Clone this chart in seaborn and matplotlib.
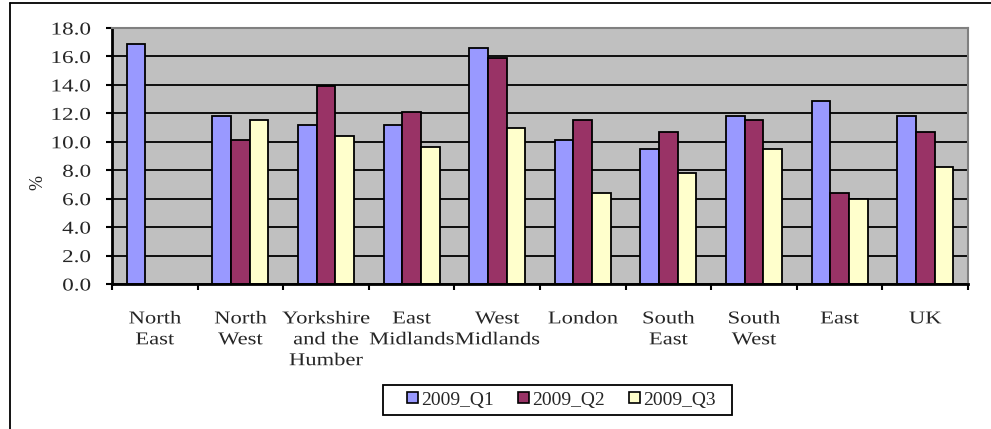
import matplotlib
matplotlib.use("Agg")
import matplotlib.pyplot as plt
from matplotlib.lines import Line2D
from matplotlib.patches import Rectangle
from matplotlib.patheffects import AbstractPathEffect
from matplotlib.transforms import Affine2D
from matplotlib.ticker import FixedLocator, FormatStrFormatter
import numpy as np
import pandas as pd
import seaborn as sns

regions = ["North\nEast", "North\nWest", "Yorkshire\nand the\nHumber", "East\nMidlands",
           "West\nMidlands", "London", "South\nEast", "South\nWest", "East", "UK"]
quarters = ["2009_Q1", "2009_Q2", "2009_Q3"]
q1 = [16.9, 11.8, 11.2, 11.2, 16.6, 10.1, 9.5, 11.8, 12.9, 11.8]
q2 = [np.nan, 10.1, 13.9, 12.1, 15.9, 11.5, 10.7, 11.5, 6.4, 10.7]
q3 = [np.nan, 11.5, 10.4, 9.6, 11.0, 6.4, 7.8, 9.5, 6.0, 8.2]
colors = ["#9999FF", "#993366", "#FFFFCC"]

df = pd.DataFrame({
    "region": regions * 3,
    "quarter": [q for q in quarters for _ in regions],
    "value": q1 + q2 + q3,
})


class WideText(AbstractPathEffect):
    """Widen glyph runs horizontally about a chosen anchor of each line."""

    def __init__(self, sx=1.25, anchor="center"):
        super().__init__()
        self.sx = sx
        self.anchor = anchor

    def draw_path(self, renderer, gc, tpath, affine, rgbFace=None):
        ext = tpath.get_extents()
        if self.anchor == "center":
            c = (ext.x0 + ext.x1) / 2
        elif self.anchor == "right":
            c = ext.x1
        else:
            c = 0.0
        t = Affine2D().translate(-c, 0).scale(self.sx, 1).translate(c, 0) + affine
        renderer.draw_path(gc, tpath, t, rgbFace)


sns.set_theme(style="white")
plt.rcParams["font.family"] = ["Liberation Serif", "DejaVu Serif"]

W, H = 991, 429
fig = plt.figure(figsize=(W / 100, H / 100), dpi=100)
ax = fig.add_axes([112 / W, 1 - 284 / H, 856 / W, 256 / H])

sns.barplot(data=df, x="region", y="value", hue="quarter", order=regions,
            hue_order=quarters, palette=colors, width=0.655, gap=0,
            edgecolor="black", linewidth=1.3, errorbar=None, saturation=1,
            ax=ax)

ax.set_facecolor("#C0C0C0")
ax.set_xlim(-0.5, len(regions) - 0.5)
ax.set_ylim(0, 18)
ax.set_yticks(np.arange(0, 18.1, 2))
ax.yaxis.set_major_formatter(FormatStrFormatter("%.1f"))
ax.yaxis.grid(True, color="black", linewidth=1.3)
ax.set_axisbelow(True)

# category labels centred, tick marks on category boundaries
ax.xaxis.set_minor_locator(FixedLocator(np.arange(-0.5, len(regions), 1.0)))
ax.tick_params(axis="x", which="major", length=0, pad=19, labelsize=13)
ax.tick_params(axis="x", which="minor", length=4.5, width=1.5, color="black",
               direction="out", bottom=True)
ax.tick_params(axis="y", which="major", length=4.5, width=1.5, color="black",
               direction="out", left=True, pad=11, labelsize=13)
for lab in ax.get_xticklabels():
    lab.set_linespacing(1.3)
    lab.set_ha("center")
    lab.set_path_effects([WideText(1.25, "center")])
for lab in ax.get_yticklabels():
    lab.set_path_effects([WideText(1.28, "right")])

ax.set_xlabel("")
ax.set_ylabel("%", fontsize=13)
ax.yaxis.set_label_coords(-0.077, 0.395)

for side in ("left", "bottom"):
    ax.spines[side].set_color("black")
    ax.spines[side].set_linewidth(2)
for side in ("top", "right"):
    ax.spines[side].set_color("#808080")
    ax.spines[side].set_linewidth(1.5)

handles, labels = ax.get_legend_handles_labels()
if ax.get_legend() is not None:
    ax.get_legend().remove()
leg = fig.legend(handles, labels, loc="center", bbox_to_anchor=(561.5 / W, 1 - 400 / H),
                 ncol=3, frameon=False, handlelength=0.55, handleheight=0.55,
                 handletextpad=0.18, columnspacing=1.25, fontsize=14,
                 borderpad=0, borderaxespad=0)
for h in leg.legend_handles:
    h.set_edgecolor("black")
    h.set_linewidth(1.2)

# legend box
fig.add_artist(Rectangle((383 / W, 1 - 415 / H), 349 / W, 30 / H, transform=fig.transFigure,
                         facecolor="none", edgecolor="black", linewidth=1.3))

# outer chart border
fig.add_artist(Line2D([9.5 / W, 9.5 / W], [0, 1 - 2.5 / H], transform=fig.transFigure,
                      color="black", linewidth=1.3))
fig.add_artist(Line2D([9.5 / W, 1], [1 - 2.5 / H, 1 - 2.5 / H], transform=fig.transFigure,
                      color="black", linewidth=1.3))

fig.savefig("out.png", dpi=100, facecolor="white")
